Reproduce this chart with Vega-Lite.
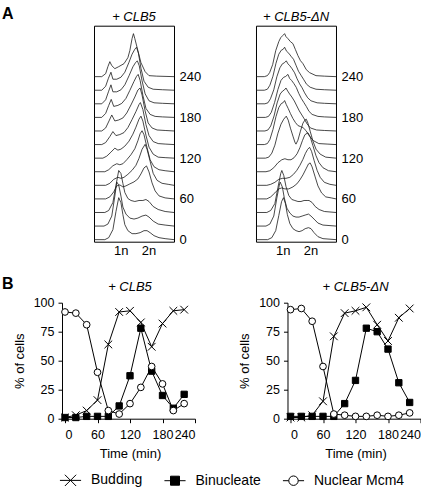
{
"$schema": "https://vega.github.io/schema/vega-lite/v6.json",
"padding": {"left": 2, "top": 5.7, "right": 0, "bottom": 0},
"background": "white",
"config": {
  "font": "Liberation Sans",
  "view": {"stroke": null},
  "axis": {"labelColor": "black", "titleColor": "black", "domainColor": "black", "tickColor": "black", "grid": false, "labelFont": "Liberation Sans", "titleFont": "Liberation Sans", "titleFontWeight": "normal"},
  "title": {"font": "Liberation Sans", "fontWeight": "normal", "color": "black"},
  "legend": {"labelFont": "Liberation Sans", "labelColor": "black"}
},
"datasets": {
"time": [
{"p":"L","s":"Budding","t":0,"v":1},{"p":"L","s":"Budding","t":20,"v":3},{"p":"L","s":"Budding","t":40,"v":7},{"p":"L","s":"Budding","t":60,"v":16},{"p":"L","s":"Budding","t":80,"v":64},{"p":"L","s":"Budding","t":100,"v":92},{"p":"L","s":"Budding","t":120,"v":93},{"p":"L","s":"Budding","t":140,"v":83},{"p":"L","s":"Budding","t":160,"v":62},{"p":"L","s":"Budding","t":180,"v":82},{"p":"L","s":"Budding","t":200,"v":93},{"p":"L","s":"Budding","t":220,"v":94},
{"p":"L","s":"Binucleate","t":0,"v":1},{"p":"L","s":"Binucleate","t":20,"v":1},{"p":"L","s":"Binucleate","t":40,"v":2},{"p":"L","s":"Binucleate","t":60,"v":2},{"p":"L","s":"Binucleate","t":80,"v":2},{"p":"L","s":"Binucleate","t":100,"v":11},{"p":"L","s":"Binucleate","t":120,"v":37},{"p":"L","s":"Binucleate","t":140,"v":78},{"p":"L","s":"Binucleate","t":160,"v":41},{"p":"L","s":"Binucleate","t":180,"v":20},{"p":"L","s":"Binucleate","t":200,"v":9},{"p":"L","s":"Binucleate","t":220,"v":21},
{"p":"L","s":"Nuclear Mcm4","t":0,"v":92},{"p":"L","s":"Nuclear Mcm4","t":20,"v":91},{"p":"L","s":"Nuclear Mcm4","t":40,"v":81},{"p":"L","s":"Nuclear Mcm4","t":60,"v":40},{"p":"L","s":"Nuclear Mcm4","t":80,"v":7},{"p":"L","s":"Nuclear Mcm4","t":100,"v":4},{"p":"L","s":"Nuclear Mcm4","t":120,"v":13},{"p":"L","s":"Nuclear Mcm4","t":140,"v":27},{"p":"L","s":"Nuclear Mcm4","t":160,"v":45},{"p":"L","s":"Nuclear Mcm4","t":180,"v":30},{"p":"L","s":"Nuclear Mcm4","t":200,"v":7},{"p":"L","s":"Nuclear Mcm4","t":220,"v":13},
{"p":"R","s":"Budding","t":0,"v":1},{"p":"R","s":"Budding","t":20,"v":1},{"p":"R","s":"Budding","t":40,"v":3},{"p":"R","s":"Budding","t":60,"v":15},{"p":"R","s":"Budding","t":80,"v":71},{"p":"R","s":"Budding","t":100,"v":91},{"p":"R","s":"Budding","t":120,"v":93},{"p":"R","s":"Budding","t":140,"v":96},{"p":"R","s":"Budding","t":160,"v":81},{"p":"R","s":"Budding","t":180,"v":67},{"p":"R","s":"Budding","t":200,"v":87},{"p":"R","s":"Budding","t":220,"v":95},
{"p":"R","s":"Binucleate","t":0,"v":2},{"p":"R","s":"Binucleate","t":20,"v":2},{"p":"R","s":"Binucleate","t":40,"v":2},{"p":"R","s":"Binucleate","t":60,"v":2},{"p":"R","s":"Binucleate","t":80,"v":2},{"p":"R","s":"Binucleate","t":100,"v":13},{"p":"R","s":"Binucleate","t":120,"v":33},{"p":"R","s":"Binucleate","t":140,"v":78},{"p":"R","s":"Binucleate","t":160,"v":75},{"p":"R","s":"Binucleate","t":180,"v":60},{"p":"R","s":"Binucleate","t":200,"v":31},{"p":"R","s":"Binucleate","t":220,"v":14},
{"p":"R","s":"Nuclear Mcm4","t":0,"v":94},{"p":"R","s":"Nuclear Mcm4","t":20,"v":95},{"p":"R","s":"Nuclear Mcm4","t":40,"v":84},{"p":"R","s":"Nuclear Mcm4","t":60,"v":45},{"p":"R","s":"Nuclear Mcm4","t":80,"v":4},{"p":"R","s":"Nuclear Mcm4","t":100,"v":3},{"p":"R","s":"Nuclear Mcm4","t":120,"v":2},{"p":"R","s":"Nuclear Mcm4","t":140,"v":2},{"p":"R","s":"Nuclear Mcm4","t":160,"v":3},{"p":"R","s":"Nuclear Mcm4","t":180,"v":2},{"p":"R","s":"Nuclear Mcm4","t":200,"v":3},{"p":"R","s":"Nuclear Mcm4","t":220,"v":5}
],
"ridge": [
{"p":"L","t":0,"u":0.04,"h":0},{"p":"L","t":0,"u":0.43,"h":0},{"p":"L","t":0,"u":0.57,"h":2},{"p":"L","t":0,"u":0.72,"h":10},{"p":"L","t":0,"u":0.83,"h":28},{"p":"L","t":0,"u":0.93,"h":42},{"p":"L","t":0,"u":1.01,"h":37},{"p":"L","t":0,"u":1.08,"h":25},{"p":"L","t":0,"u":1.15,"h":15},{"p":"L","t":0,"u":1.26,"h":9},{"p":"L","t":0,"u":1.41,"h":6},{"p":"L","t":0,"u":1.55,"h":6},{"p":"L","t":0,"u":1.70,"h":7},{"p":"L","t":0,"u":1.84,"h":9},{"p":"L","t":0,"u":1.95,"h":9},{"p":"L","t":0,"u":2.06,"h":7},{"p":"L","t":0,"u":2.20,"h":4},{"p":"L","t":0,"u":2.38,"h":2},{"p":"L","t":0,"u":2.60,"h":1},{"p":"L","t":0,"u":2.92,"h":0},
{"p":"L","t":20,"u":0.04,"h":0},{"p":"L","t":20,"u":0.40,"h":0},{"p":"L","t":20,"u":0.54,"h":2},{"p":"L","t":20,"u":0.68,"h":10},{"p":"L","t":20,"u":0.79,"h":30},{"p":"L","t":20,"u":0.86,"h":44},{"p":"L","t":20,"u":0.93,"h":41},{"p":"L","t":20,"u":1.01,"h":30},{"p":"L","t":20,"u":1.08,"h":19},{"p":"L","t":20,"u":1.19,"h":12},{"p":"L","t":20,"u":1.33,"h":8},{"p":"L","t":20,"u":1.48,"h":7},{"p":"L","t":20,"u":1.62,"h":8},{"p":"L","t":20,"u":1.77,"h":10},{"p":"L","t":20,"u":1.91,"h":11},{"p":"L","t":20,"u":2.02,"h":9},{"p":"L","t":20,"u":2.17,"h":5},{"p":"L","t":20,"u":2.35,"h":2},{"p":"L","t":20,"u":2.60,"h":1},{"p":"L","t":20,"u":2.92,"h":0},
{"p":"L","t":40,"u":0.04,"h":0},{"p":"L","t":40,"u":0.43,"h":0},{"p":"L","t":40,"u":0.57,"h":2},{"p":"L","t":40,"u":0.72,"h":10},{"p":"L","t":40,"u":0.83,"h":27},{"p":"L","t":40,"u":0.93,"h":42},{"p":"L","t":40,"u":1.01,"h":39},{"p":"L","t":40,"u":1.08,"h":29},{"p":"L","t":40,"u":1.15,"h":20},{"p":"L","t":40,"u":1.26,"h":14},{"p":"L","t":40,"u":1.37,"h":12},{"p":"L","t":40,"u":1.51,"h":11},{"p":"L","t":40,"u":1.66,"h":12},{"p":"L","t":40,"u":1.80,"h":12},{"p":"L","t":40,"u":1.91,"h":13},{"p":"L","t":40,"u":2.02,"h":11},{"p":"L","t":40,"u":2.17,"h":6},{"p":"L","t":40,"u":2.35,"h":3},{"p":"L","t":40,"u":2.60,"h":1},{"p":"L","t":40,"u":2.92,"h":0},
{"p":"L","t":60,"u":0.04,"h":0},{"p":"L","t":60,"u":0.46,"h":0},{"p":"L","t":60,"u":0.61,"h":2},{"p":"L","t":60,"u":0.75,"h":7},{"p":"L","t":60,"u":0.86,"h":13},{"p":"L","t":60,"u":0.97,"h":14},{"p":"L","t":60,"u":1.08,"h":12},{"p":"L","t":60,"u":1.19,"h":13},{"p":"L","t":60,"u":1.33,"h":15},{"p":"L","t":60,"u":1.48,"h":17},{"p":"L","t":60,"u":1.62,"h":20},{"p":"L","t":60,"u":1.73,"h":25},{"p":"L","t":60,"u":1.84,"h":31},{"p":"L","t":60,"u":1.93,"h":33},{"p":"L","t":60,"u":2.02,"h":27},{"p":"L","t":60,"u":2.13,"h":16},{"p":"L","t":60,"u":2.24,"h":8},{"p":"L","t":60,"u":2.38,"h":3},{"p":"L","t":60,"u":2.60,"h":1},{"p":"L","t":60,"u":2.92,"h":0},
{"p":"L","t":80,"u":0.04,"h":0},{"p":"L","t":80,"u":0.46,"h":0},{"p":"L","t":80,"u":0.61,"h":2},{"p":"L","t":80,"u":0.75,"h":6},{"p":"L","t":80,"u":0.90,"h":8},{"p":"L","t":80,"u":1.01,"h":7},{"p":"L","t":80,"u":1.12,"h":8},{"p":"L","t":80,"u":1.26,"h":11},{"p":"L","t":80,"u":1.41,"h":15},{"p":"L","t":80,"u":1.55,"h":20},{"p":"L","t":80,"u":1.66,"h":27},{"p":"L","t":80,"u":1.77,"h":36},{"p":"L","t":80,"u":1.88,"h":41},{"p":"L","t":80,"u":1.95,"h":36},{"p":"L","t":80,"u":2.06,"h":24},{"p":"L","t":80,"u":2.17,"h":12},{"p":"L","t":80,"u":2.31,"h":5},{"p":"L","t":80,"u":2.49,"h":2},{"p":"L","t":80,"u":2.71,"h":1},{"p":"L","t":80,"u":2.92,"h":0},
{"p":"L","t":100,"u":0.04,"h":0},{"p":"L","t":100,"u":0.43,"h":0},{"p":"L","t":100,"u":0.57,"h":2},{"p":"L","t":100,"u":0.72,"h":6},{"p":"L","t":100,"u":0.86,"h":8},{"p":"L","t":100,"u":0.97,"h":7},{"p":"L","t":100,"u":1.08,"h":8},{"p":"L","t":100,"u":1.22,"h":12},{"p":"L","t":100,"u":1.37,"h":17},{"p":"L","t":100,"u":1.51,"h":23},{"p":"L","t":100,"u":1.62,"h":31},{"p":"L","t":100,"u":1.70,"h":38},{"p":"L","t":100,"u":1.77,"h":41},{"p":"L","t":100,"u":1.84,"h":37},{"p":"L","t":100,"u":1.95,"h":24},{"p":"L","t":100,"u":2.06,"h":12},{"p":"L","t":100,"u":2.20,"h":5},{"p":"L","t":100,"u":2.38,"h":2},{"p":"L","t":100,"u":2.60,"h":1},{"p":"L","t":100,"u":2.92,"h":0},
{"p":"L","t":120,"u":0.04,"h":0},{"p":"L","t":120,"u":0.36,"h":0},{"p":"L","t":120,"u":0.50,"h":2},{"p":"L","t":120,"u":0.65,"h":6},{"p":"L","t":120,"u":0.79,"h":10},{"p":"L","t":120,"u":0.90,"h":8},{"p":"L","t":120,"u":1.01,"h":9},{"p":"L","t":120,"u":1.15,"h":12},{"p":"L","t":120,"u":1.30,"h":17},{"p":"L","t":120,"u":1.44,"h":24},{"p":"L","t":120,"u":1.55,"h":31},{"p":"L","t":120,"u":1.66,"h":39},{"p":"L","t":120,"u":1.73,"h":42},{"p":"L","t":120,"u":1.80,"h":37},{"p":"L","t":120,"u":1.91,"h":23},{"p":"L","t":120,"u":2.02,"h":11},{"p":"L","t":120,"u":2.17,"h":4},{"p":"L","t":120,"u":2.35,"h":1},{"p":"L","t":120,"u":2.60,"h":0.5},{"p":"L","t":120,"u":2.92,"h":0},
{"p":"L","t":140,"u":0.04,"h":0},{"p":"L","t":140,"u":0.32,"h":0},{"p":"L","t":140,"u":0.46,"h":2},{"p":"L","t":140,"u":0.61,"h":8},{"p":"L","t":140,"u":0.72,"h":13},{"p":"L","t":140,"u":0.83,"h":9},{"p":"L","t":140,"u":0.97,"h":10},{"p":"L","t":140,"u":1.12,"h":12},{"p":"L","t":140,"u":1.26,"h":17},{"p":"L","t":140,"u":1.41,"h":25},{"p":"L","t":140,"u":1.55,"h":33},{"p":"L","t":140,"u":1.66,"h":40},{"p":"L","t":140,"u":1.71,"h":42},{"p":"L","t":140,"u":1.80,"h":35},{"p":"L","t":140,"u":1.91,"h":20},{"p":"L","t":140,"u":2.02,"h":9},{"p":"L","t":140,"u":2.17,"h":3},{"p":"L","t":140,"u":2.35,"h":1},{"p":"L","t":140,"u":2.60,"h":0.5},{"p":"L","t":140,"u":2.92,"h":0},
{"p":"L","t":160,"u":0.04,"h":0},{"p":"L","t":160,"u":0.32,"h":0},{"p":"L","t":160,"u":0.46,"h":3},{"p":"L","t":160,"u":0.58,"h":10},{"p":"L","t":160,"u":0.68,"h":16},{"p":"L","t":160,"u":0.79,"h":10},{"p":"L","t":160,"u":0.93,"h":11},{"p":"L","t":160,"u":1.08,"h":13},{"p":"L","t":160,"u":1.22,"h":18},{"p":"L","t":160,"u":1.37,"h":26},{"p":"L","t":160,"u":1.51,"h":34},{"p":"L","t":160,"u":1.62,"h":41},{"p":"L","t":160,"u":1.70,"h":43},{"p":"L","t":160,"u":1.77,"h":36},{"p":"L","t":160,"u":1.88,"h":20},{"p":"L","t":160,"u":1.99,"h":8},{"p":"L","t":160,"u":2.13,"h":3},{"p":"L","t":160,"u":2.31,"h":1},{"p":"L","t":160,"u":2.60,"h":0.5},{"p":"L","t":160,"u":2.92,"h":0},
{"p":"L","t":180,"u":0.04,"h":0},{"p":"L","t":180,"u":0.32,"h":0},{"p":"L","t":180,"u":0.46,"h":4},{"p":"L","t":180,"u":0.57,"h":12},{"p":"L","t":180,"u":0.66,"h":18},{"p":"L","t":180,"u":0.75,"h":11},{"p":"L","t":180,"u":0.90,"h":12},{"p":"L","t":180,"u":1.04,"h":14},{"p":"L","t":180,"u":1.19,"h":19},{"p":"L","t":180,"u":1.33,"h":27},{"p":"L","t":180,"u":1.48,"h":36},{"p":"L","t":180,"u":1.57,"h":41},{"p":"L","t":180,"u":1.63,"h":43},{"p":"L","t":180,"u":1.70,"h":37},{"p":"L","t":180,"u":1.80,"h":22},{"p":"L","t":180,"u":1.91,"h":9},{"p":"L","t":180,"u":2.06,"h":3},{"p":"L","t":180,"u":2.24,"h":1},{"p":"L","t":180,"u":2.50,"h":0.5},{"p":"L","t":180,"u":2.92,"h":0},
{"p":"L","t":200,"u":0.04,"h":0},{"p":"L","t":200,"u":0.32,"h":0},{"p":"L","t":200,"u":0.46,"h":4},{"p":"L","t":200,"u":0.56,"h":12},{"p":"L","t":200,"u":0.65,"h":19},{"p":"L","t":200,"u":0.72,"h":12},{"p":"L","t":200,"u":0.86,"h":12},{"p":"L","t":200,"u":1.01,"h":14},{"p":"L","t":200,"u":1.15,"h":19},{"p":"L","t":200,"u":1.30,"h":28},{"p":"L","t":200,"u":1.44,"h":37},{"p":"L","t":200,"u":1.53,"h":41},{"p":"L","t":200,"u":1.60,"h":43},{"p":"L","t":200,"u":1.67,"h":38},{"p":"L","t":200,"u":1.77,"h":23},{"p":"L","t":200,"u":1.88,"h":10},{"p":"L","t":200,"u":2.02,"h":3},{"p":"L","t":200,"u":2.20,"h":1},{"p":"L","t":200,"u":2.50,"h":0.5},{"p":"L","t":200,"u":2.92,"h":0},
{"p":"L","t":220,"u":0.04,"h":0},{"p":"L","t":220,"u":0.32,"h":0},{"p":"L","t":220,"u":0.46,"h":4},{"p":"L","t":220,"u":0.56,"h":12},{"p":"L","t":220,"u":0.65,"h":18},{"p":"L","t":220,"u":0.72,"h":11},{"p":"L","t":220,"u":0.86,"h":11},{"p":"L","t":220,"u":1.01,"h":13},{"p":"L","t":220,"u":1.15,"h":18},{"p":"L","t":220,"u":1.30,"h":28},{"p":"L","t":220,"u":1.41,"h":36},{"p":"L","t":220,"u":1.51,"h":41},{"p":"L","t":220,"u":1.57,"h":43},{"p":"L","t":220,"u":1.64,"h":37},{"p":"L","t":220,"u":1.73,"h":22},{"p":"L","t":220,"u":1.84,"h":9},{"p":"L","t":220,"u":1.99,"h":3},{"p":"L","t":220,"u":2.17,"h":1},{"p":"L","t":220,"u":2.50,"h":0.5},{"p":"L","t":220,"u":2.92,"h":0},
{"p":"L","t":240,"u":0.04,"h":0},{"p":"L","t":240,"u":0.32,"h":0},{"p":"L","t":240,"u":0.46,"h":3},{"p":"L","t":240,"u":0.54,"h":10},{"p":"L","t":240,"u":0.61,"h":15},{"p":"L","t":240,"u":0.68,"h":11},{"p":"L","t":240,"u":0.79,"h":8},{"p":"L","t":240,"u":0.93,"h":10},{"p":"L","t":240,"u":1.12,"h":13},{"p":"L","t":240,"u":1.26,"h":19},{"p":"L","t":240,"u":1.33,"h":26},{"p":"L","t":240,"u":1.41,"h":38},{"p":"L","t":240,"u":1.46,"h":43},{"p":"L","t":240,"u":1.51,"h":38},{"p":"L","t":240,"u":1.62,"h":26},{"p":"L","t":240,"u":1.73,"h":14},{"p":"L","t":240,"u":1.88,"h":5},{"p":"L","t":240,"u":2.02,"h":1},{"p":"L","t":240,"u":2.30,"h":0.5},{"p":"L","t":240,"u":2.92,"h":0},
{"p":"R","t":0,"u":0.04,"h":0},{"p":"R","t":0,"u":0.46,"h":0},{"p":"R","t":0,"u":0.61,"h":2},{"p":"R","t":0,"u":0.75,"h":9},{"p":"R","t":0,"u":0.86,"h":24},{"p":"R","t":0,"u":0.96,"h":38},{"p":"R","t":0,"u":1.03,"h":42},{"p":"R","t":0,"u":1.10,"h":36},{"p":"R","t":0,"u":1.17,"h":25},{"p":"R","t":0,"u":1.26,"h":16},{"p":"R","t":0,"u":1.37,"h":11},{"p":"R","t":0,"u":1.48,"h":9},{"p":"R","t":0,"u":1.59,"h":8},{"p":"R","t":0,"u":1.70,"h":9},{"p":"R","t":0,"u":1.81,"h":11},{"p":"R","t":0,"u":1.93,"h":12},{"p":"R","t":0,"u":2.02,"h":11},{"p":"R","t":0,"u":2.13,"h":7},{"p":"R","t":0,"u":2.27,"h":3},{"p":"R","t":0,"u":2.45,"h":1},{"p":"R","t":0,"u":2.92,"h":0},
{"p":"R","t":20,"u":0.04,"h":0},{"p":"R","t":20,"u":0.40,"h":0},{"p":"R","t":20,"u":0.54,"h":2},{"p":"R","t":20,"u":0.68,"h":10},{"p":"R","t":20,"u":0.79,"h":28},{"p":"R","t":20,"u":0.88,"h":41},{"p":"R","t":20,"u":0.91,"h":44},{"p":"R","t":20,"u":0.99,"h":39},{"p":"R","t":20,"u":1.06,"h":28},{"p":"R","t":20,"u":1.15,"h":18},{"p":"R","t":20,"u":1.26,"h":13},{"p":"R","t":20,"u":1.37,"h":10},{"p":"R","t":20,"u":1.48,"h":9},{"p":"R","t":20,"u":1.59,"h":9},{"p":"R","t":20,"u":1.70,"h":10},{"p":"R","t":20,"u":1.81,"h":11},{"p":"R","t":20,"u":1.93,"h":12},{"p":"R","t":20,"u":2.02,"h":10},{"p":"R","t":20,"u":2.13,"h":7},{"p":"R","t":20,"u":2.27,"h":3},{"p":"R","t":20,"u":2.45,"h":1},{"p":"R","t":20,"u":2.92,"h":0},
{"p":"R","t":40,"u":0.04,"h":0},{"p":"R","t":40,"u":0.43,"h":0},{"p":"R","t":40,"u":0.57,"h":2},{"p":"R","t":40,"u":0.72,"h":9},{"p":"R","t":40,"u":0.83,"h":25},{"p":"R","t":40,"u":0.93,"h":39},{"p":"R","t":40,"u":0.97,"h":42},{"p":"R","t":40,"u":1.04,"h":37},{"p":"R","t":40,"u":1.12,"h":26},{"p":"R","t":40,"u":1.22,"h":17},{"p":"R","t":40,"u":1.33,"h":13},{"p":"R","t":40,"u":1.44,"h":12},{"p":"R","t":40,"u":1.55,"h":11},{"p":"R","t":40,"u":1.66,"h":11},{"p":"R","t":40,"u":1.77,"h":12},{"p":"R","t":40,"u":1.88,"h":12},{"p":"R","t":40,"u":1.95,"h":12},{"p":"R","t":40,"u":2.06,"h":10},{"p":"R","t":40,"u":2.17,"h":6},{"p":"R","t":40,"u":2.31,"h":3},{"p":"R","t":40,"u":2.50,"h":1},{"p":"R","t":40,"u":2.92,"h":0},
{"p":"R","t":60,"u":0.04,"h":0},{"p":"R","t":60,"u":0.43,"h":0},{"p":"R","t":60,"u":0.57,"h":2},{"p":"R","t":60,"u":0.72,"h":6},{"p":"R","t":60,"u":0.86,"h":10},{"p":"R","t":60,"u":0.97,"h":11},{"p":"R","t":60,"u":1.08,"h":10},{"p":"R","t":60,"u":1.22,"h":10},{"p":"R","t":60,"u":1.37,"h":12},{"p":"R","t":60,"u":1.51,"h":15},{"p":"R","t":60,"u":1.62,"h":19},{"p":"R","t":60,"u":1.73,"h":24},{"p":"R","t":60,"u":1.84,"h":30},{"p":"R","t":60,"u":1.93,"h":35},{"p":"R","t":60,"u":1.99,"h":36},{"p":"R","t":60,"u":2.06,"h":32},{"p":"R","t":60,"u":2.17,"h":22},{"p":"R","t":60,"u":2.27,"h":13},{"p":"R","t":60,"u":2.40,"h":6},{"p":"R","t":60,"u":2.55,"h":2},{"p":"R","t":60,"u":2.75,"h":1},{"p":"R","t":60,"u":2.92,"h":0},
{"p":"R","t":80,"u":0.04,"h":0},{"p":"R","t":80,"u":0.43,"h":0},{"p":"R","t":80,"u":0.57,"h":1},{"p":"R","t":80,"u":0.72,"h":3},{"p":"R","t":80,"u":0.86,"h":6},{"p":"R","t":80,"u":1.00,"h":7},{"p":"R","t":80,"u":1.12,"h":7},{"p":"R","t":80,"u":1.26,"h":8},{"p":"R","t":80,"u":1.39,"h":11},{"p":"R","t":80,"u":1.51,"h":15},{"p":"R","t":80,"u":1.62,"h":20},{"p":"R","t":80,"u":1.73,"h":26},{"p":"R","t":80,"u":1.82,"h":32},{"p":"R","t":80,"u":1.90,"h":36},{"p":"R","t":80,"u":1.97,"h":38},{"p":"R","t":80,"u":2.04,"h":34},{"p":"R","t":80,"u":2.13,"h":25},{"p":"R","t":80,"u":2.24,"h":15},{"p":"R","t":80,"u":2.35,"h":8},{"p":"R","t":80,"u":2.50,"h":3},{"p":"R","t":80,"u":2.70,"h":1},{"p":"R","t":80,"u":2.92,"h":0},
{"p":"R","t":100,"u":0.04,"h":0},{"p":"R","t":100,"u":0.40,"h":0},{"p":"R","t":100,"u":0.54,"h":1},{"p":"R","t":100,"u":0.68,"h":4},{"p":"R","t":100,"u":0.83,"h":9},{"p":"R","t":100,"u":0.97,"h":12},{"p":"R","t":100,"u":1.08,"h":13},{"p":"R","t":100,"u":1.19,"h":12},{"p":"R","t":100,"u":1.30,"h":12},{"p":"R","t":100,"u":1.41,"h":14},{"p":"R","t":100,"u":1.52,"h":18},{"p":"R","t":100,"u":1.62,"h":24},{"p":"R","t":100,"u":1.71,"h":31},{"p":"R","t":100,"u":1.80,"h":37},{"p":"R","t":100,"u":1.91,"h":39},{"p":"R","t":100,"u":1.99,"h":35},{"p":"R","t":100,"u":2.09,"h":26},{"p":"R","t":100,"u":2.20,"h":16},{"p":"R","t":100,"u":2.31,"h":9},{"p":"R","t":100,"u":2.45,"h":4},{"p":"R","t":100,"u":2.65,"h":1},{"p":"R","t":100,"u":2.92,"h":0},
{"p":"R","t":120,"u":0.04,"h":0},{"p":"R","t":120,"u":0.38,"h":0},{"p":"R","t":120,"u":0.50,"h":1},{"p":"R","t":120,"u":0.61,"h":5},{"p":"R","t":120,"u":0.72,"h":13},{"p":"R","t":120,"u":0.83,"h":25},{"p":"R","t":120,"u":0.94,"h":34},{"p":"R","t":120,"u":1.04,"h":39},{"p":"R","t":120,"u":1.13,"h":42},{"p":"R","t":120,"u":1.20,"h":38},{"p":"R","t":120,"u":1.28,"h":30},{"p":"R","t":120,"u":1.37,"h":22},{"p":"R","t":120,"u":1.44,"h":16},{"p":"R","t":120,"u":1.48,"h":14},{"p":"R","t":120,"u":1.55,"h":18},{"p":"R","t":120,"u":1.64,"h":27},{"p":"R","t":120,"u":1.73,"h":35},{"p":"R","t":120,"u":1.80,"h":38},{"p":"R","t":120,"u":1.85,"h":39},{"p":"R","t":120,"u":1.91,"h":35},{"p":"R","t":120,"u":1.99,"h":27},{"p":"R","t":120,"u":2.09,"h":17},{"p":"R","t":120,"u":2.20,"h":9},{"p":"R","t":120,"u":2.35,"h":4},{"p":"R","t":120,"u":2.55,"h":1},{"p":"R","t":120,"u":2.92,"h":0},
{"p":"R","t":140,"u":0.04,"h":0},{"p":"R","t":140,"u":0.34,"h":0},{"p":"R","t":140,"u":0.45,"h":1},{"p":"R","t":140,"u":0.54,"h":5},{"p":"R","t":140,"u":0.65,"h":15},{"p":"R","t":140,"u":0.76,"h":28},{"p":"R","t":140,"u":0.86,"h":37},{"p":"R","t":140,"u":0.95,"h":41},{"p":"R","t":140,"u":1.02,"h":42},{"p":"R","t":140,"u":1.07,"h":44},{"p":"R","t":140,"u":1.13,"h":40},{"p":"R","t":140,"u":1.20,"h":36},{"p":"R","t":140,"u":1.28,"h":31},{"p":"R","t":140,"u":1.37,"h":26},{"p":"R","t":140,"u":1.46,"h":22},{"p":"R","t":140,"u":1.55,"h":19},{"p":"R","t":140,"u":1.64,"h":18},{"p":"R","t":140,"u":1.73,"h":17},{"p":"R","t":140,"u":1.84,"h":14},{"p":"R","t":140,"u":1.95,"h":9},{"p":"R","t":140,"u":2.10,"h":4},{"p":"R","t":140,"u":2.30,"h":1},{"p":"R","t":140,"u":2.60,"h":0.5},{"p":"R","t":140,"u":2.92,"h":0},
{"p":"R","t":160,"u":0.04,"h":0},{"p":"R","t":160,"u":0.36,"h":0},{"p":"R","t":160,"u":0.47,"h":1},{"p":"R","t":160,"u":0.57,"h":5},{"p":"R","t":160,"u":0.69,"h":15},{"p":"R","t":160,"u":0.80,"h":28},{"p":"R","t":160,"u":0.91,"h":37},{"p":"R","t":160,"u":1.00,"h":40},{"p":"R","t":160,"u":1.06,"h":41},{"p":"R","t":160,"u":1.12,"h":43},{"p":"R","t":160,"u":1.18,"h":40},{"p":"R","t":160,"u":1.25,"h":37},{"p":"R","t":160,"u":1.33,"h":34},{"p":"R","t":160,"u":1.42,"h":30},{"p":"R","t":160,"u":1.51,"h":25},{"p":"R","t":160,"u":1.60,"h":20},{"p":"R","t":160,"u":1.69,"h":16},{"p":"R","t":160,"u":1.78,"h":12},{"p":"R","t":160,"u":1.88,"h":7},{"p":"R","t":160,"u":2.00,"h":3},{"p":"R","t":160,"u":2.22,"h":1},{"p":"R","t":160,"u":2.50,"h":0.5},{"p":"R","t":160,"u":2.92,"h":0},
{"p":"R","t":180,"u":0.04,"h":0},{"p":"R","t":180,"u":0.38,"h":0},{"p":"R","t":180,"u":0.49,"h":1},{"p":"R","t":180,"u":0.59,"h":5},{"p":"R","t":180,"u":0.71,"h":15},{"p":"R","t":180,"u":0.83,"h":28},{"p":"R","t":180,"u":0.94,"h":37},{"p":"R","t":180,"u":1.03,"h":40},{"p":"R","t":180,"u":1.11,"h":41},{"p":"R","t":180,"u":1.19,"h":43},{"p":"R","t":180,"u":1.25,"h":39},{"p":"R","t":180,"u":1.32,"h":37},{"p":"R","t":180,"u":1.40,"h":34},{"p":"R","t":180,"u":1.49,"h":30},{"p":"R","t":180,"u":1.58,"h":24},{"p":"R","t":180,"u":1.67,"h":19},{"p":"R","t":180,"u":1.76,"h":15},{"p":"R","t":180,"u":1.85,"h":11},{"p":"R","t":180,"u":1.95,"h":6},{"p":"R","t":180,"u":2.06,"h":3},{"p":"R","t":180,"u":2.27,"h":1},{"p":"R","t":180,"u":2.50,"h":0.5},{"p":"R","t":180,"u":2.92,"h":0},
{"p":"R","t":200,"u":0.04,"h":0},{"p":"R","t":200,"u":0.36,"h":0},{"p":"R","t":200,"u":0.47,"h":1},{"p":"R","t":200,"u":0.56,"h":5},{"p":"R","t":200,"u":0.68,"h":14},{"p":"R","t":200,"u":0.79,"h":27},{"p":"R","t":200,"u":0.90,"h":36},{"p":"R","t":200,"u":0.99,"h":40},{"p":"R","t":200,"u":1.06,"h":41},{"p":"R","t":200,"u":1.13,"h":43},{"p":"R","t":200,"u":1.19,"h":40},{"p":"R","t":200,"u":1.26,"h":38},{"p":"R","t":200,"u":1.34,"h":35},{"p":"R","t":200,"u":1.43,"h":31},{"p":"R","t":200,"u":1.52,"h":25},{"p":"R","t":200,"u":1.61,"h":20},{"p":"R","t":200,"u":1.70,"h":16},{"p":"R","t":200,"u":1.79,"h":11},{"p":"R","t":200,"u":1.90,"h":6},{"p":"R","t":200,"u":2.02,"h":3},{"p":"R","t":200,"u":2.24,"h":1},{"p":"R","t":200,"u":2.50,"h":0.5},{"p":"R","t":200,"u":2.92,"h":0},
{"p":"R","t":220,"u":0.04,"h":0},{"p":"R","t":220,"u":0.34,"h":0},{"p":"R","t":220,"u":0.45,"h":1},{"p":"R","t":220,"u":0.54,"h":5},{"p":"R","t":220,"u":0.65,"h":14},{"p":"R","t":220,"u":0.76,"h":27},{"p":"R","t":220,"u":0.86,"h":36},{"p":"R","t":220,"u":0.95,"h":40},{"p":"R","t":220,"u":1.02,"h":41},{"p":"R","t":220,"u":1.07,"h":43},{"p":"R","t":220,"u":1.14,"h":39},{"p":"R","t":220,"u":1.22,"h":37},{"p":"R","t":220,"u":1.30,"h":34},{"p":"R","t":220,"u":1.39,"h":31},{"p":"R","t":220,"u":1.48,"h":25},{"p":"R","t":220,"u":1.57,"h":19},{"p":"R","t":220,"u":1.66,"h":15},{"p":"R","t":220,"u":1.75,"h":11},{"p":"R","t":220,"u":1.86,"h":6},{"p":"R","t":220,"u":1.99,"h":3},{"p":"R","t":220,"u":2.20,"h":1},{"p":"R","t":220,"u":2.50,"h":0.5},{"p":"R","t":220,"u":2.92,"h":0},
{"p":"R","t":240,"u":0.04,"h":0},{"p":"R","t":240,"u":0.34,"h":0},{"p":"R","t":240,"u":0.45,"h":1},{"p":"R","t":240,"u":0.53,"h":4},{"p":"R","t":240,"u":0.64,"h":12},{"p":"R","t":240,"u":0.75,"h":26},{"p":"R","t":240,"u":0.86,"h":35},{"p":"R","t":240,"u":0.93,"h":39},{"p":"R","t":240,"u":1.00,"h":41},{"p":"R","t":240,"u":1.07,"h":43},{"p":"R","t":240,"u":1.12,"h":40},{"p":"R","t":240,"u":1.19,"h":38},{"p":"R","t":240,"u":1.28,"h":35},{"p":"R","t":240,"u":1.37,"h":33},{"p":"R","t":240,"u":1.46,"h":27},{"p":"R","t":240,"u":1.55,"h":21},{"p":"R","t":240,"u":1.64,"h":16},{"p":"R","t":240,"u":1.73,"h":13},{"p":"R","t":240,"u":1.85,"h":7},{"p":"R","t":240,"u":1.97,"h":4},{"p":"R","t":240,"u":2.20,"h":1},{"p":"R","t":240,"u":2.50,"h":0.5},{"p":"R","t":240,"u":2.92,"h":0}
]
},
"vconcat": [
  {
    "hconcat": [
      {
        "width": 26, "height": 216,
        "title": {"text": "A", "anchor": "start", "frame": "group", "dx": -63, "offset": 3.3, "fontSize": 16, "fontWeight": "bold"},
        "data": {"values": [{}]},
        "mark": {"type": "text"},
        "encoding": {"text": {"value": ""}}
      },
      {
        "hconcat": [
          {
            "width": 80, "height": 216,
            "view": {"stroke": "black", "strokeWidth": 1},
            "title": {"text": "+ CLB5", "fontStyle": "italic", "fontSize": 13, "offset": 2},
            "data": {"name": "ridge"},
            "transform": [{"filter": "datum.p === 'L'"}, {"calculate": "datum.t + datum.h * 1.472", "as": "y"}],
            "mark": {"type": "line", "color": "#1a1a1a", "strokeWidth": 0.8},
            "encoding": {
              "x": {"field": "u", "type": "quantitative", "scale": {"domain": [0.04, 2.92], "nice": false, "zero": false}, "axis": {"values": [1, 2], "labelExpr": "datum.value === 1 ? '1n' : '2n'", "domain": false, "ticks": false, "tickSize": 0, "labelPadding": 3, "labelFontSize": 13, "title": null}},
              "y": {"field": "y", "type": "quantitative", "scale": {"domain": [-3, 315], "nice": false, "zero": false}, "axis": {"orient": "right", "values": [0, 60, 120, 180, 240], "domain": false, "ticks": false, "tickSize": 0, "labelPadding": 5, "labelFontSize": 13, "title": null}},
              "detail": {"field": "t", "type": "nominal"}
            }
          },
          {
            "width": 80, "height": 216,
            "view": {"stroke": "black", "strokeWidth": 1},
            "title": {"text": "+ CLB5-ΔN", "fontStyle": "italic", "fontSize": 13, "offset": 2},
            "data": {"name": "ridge"},
            "transform": [{"filter": "datum.p === 'R'"}, {"calculate": "datum.t + datum.h * 1.472", "as": "y"}],
            "mark": {"type": "line", "color": "#1a1a1a", "strokeWidth": 0.8},
            "encoding": {
              "x": {"field": "u", "type": "quantitative", "scale": {"domain": [0.04, 2.92], "nice": false, "zero": false}, "axis": {"values": [1, 2], "labelExpr": "datum.value === 1 ? '1n' : '2n'", "domain": false, "ticks": false, "tickSize": 0, "labelPadding": 3, "labelFontSize": 13, "title": null}},
              "y": {"field": "y", "type": "quantitative", "scale": {"domain": [-3, 315], "nice": false, "zero": false}, "axis": {"orient": "right", "values": [0, 60, 120, 180, 240], "domain": false, "ticks": false, "tickSize": 0, "labelPadding": 5, "labelFontSize": 13, "title": null}},
              "detail": {"field": "t", "type": "nominal"}
            }
          }
        ],
        "spacing": 82, "bounds": "flush"
      }
    ],
    "spacing": 0, "bounds": "full"
  },
  {
    "title": {"text": "B", "anchor": "start", "frame": "group", "dx": -63, "offset": -11, "fontSize": 16, "fontWeight": "bold"},
    "hconcat": [
      {
        "width": 130, "height": 116,
        "title": {"text": "+ CLB5", "fontStyle": "italic", "fontSize": 13, "offset": 3},
        "data": {"name": "time"},
        "transform": [{"filter": "datum.p === 'L'"}],
        "encoding": {
          "x": {"field": "t", "type": "quantitative", "scale": {"domain": [0, 240], "nice": false}, "axis": {"values": [0, 60, 120, 180, 240], "title": "Time (min)", "tickSize": 4, "labelPadding": 6, "titlePadding": 6, "labelFontSize": 12.5, "titleFontSize": 13}},
          "y": {"field": "v", "type": "quantitative", "scale": {"domain": [0, 100], "nice": false}, "axis": {"values": [0, 25, 50, 75, 100], "title": "% of cells", "offset": 3, "tickSize": 4, "labelPadding": 4, "titlePadding": 7, "labelFontSize": 12.5, "titleFontSize": 13}}
        },
        "layer": [
          {"mark": {"type": "line", "color": "black", "strokeWidth": 1}, "encoding": {"detail": {"field": "s", "type": "nominal"}}},
          {"transform": [{"filter": "datum.s === 'Budding'"}], "mark": {"type": "point", "shape": "M-1.15,-1.15L1.15,1.15M-1.15,1.15L1.15,-1.15", "filled": false, "stroke": "black", "strokeWidth": 1, "opacity": 1, "size": 45}},
          {"transform": [{"filter": "datum.s === 'Binucleate'"}], "mark": {"type": "point", "shape": "square", "filled": true, "fill": "black", "stroke": "black", "strokeWidth": 1, "opacity": 1, "size": 40}},
          {"transform": [{"filter": "datum.s === 'Nuclear Mcm4'"}], "mark": {"type": "point", "shape": "circle", "filled": true, "fill": "white", "stroke": "black", "strokeWidth": 1, "opacity": 1, "size": 45}},
          {"transform": [{"filter": "false"}], "mark": {"type": "point", "filled": true, "stroke": "black", "strokeWidth": 1, "opacity": 1, "size": 81},
           "encoding": {
             "shape": {"field": "s", "type": "nominal", "scale": {"domain": ["Budding", "Binucleate", "Nuclear Mcm4"], "range": ["M-1.25,-1.25L1.25,1.25M-1.25,1.25L1.25,-1.25M-2.35,0H2.35", "M-1,-1H1V1H-1ZM-2.35,0H-1M1,0H2.35", "M1.05,0A1.05,1.05,0,1,1,-1.05,0A1.05,1.05,0,1,1,1.05,0ZM-2.35,0H-1.05M1.05,0H2.35"]},
               "legend": {"title": null, "orient": "none", "legendX": -1.5, "legendY": 447.5, "direction": "horizontal", "labelFontSize": 14, "labelOffset": 13.5, "columnPadding": 19.5, "symbolSize": 81, "symbolStrokeWidth": 1, "symbolOpacity": 1, "padding": 0}},
             "fill": {"field": "s", "type": "nominal", "scale": {"domain": ["Budding", "Binucleate", "Nuclear Mcm4"], "range": ["black", "black", "white"]},
               "legend": {"title": null, "orient": "none", "legendX": -1.5, "legendY": 447.5, "direction": "horizontal", "labelFontSize": 14, "labelOffset": 13.5, "columnPadding": 19.5, "symbolSize": 81, "symbolStrokeWidth": 1, "symbolOpacity": 1, "padding": 0}}
           }}
        ]
      },
      {
        "width": 130, "height": 116,
        "title": {"text": "+ CLB5-ΔN", "fontStyle": "italic", "fontSize": 13, "offset": 3},
        "data": {"name": "time"},
        "transform": [{"filter": "datum.p === 'R'"}],
        "encoding": {
          "x": {"field": "t", "type": "quantitative", "scale": {"domain": [0, 240], "nice": false}, "axis": {"values": [0, 60, 120, 180, 240], "title": "Time (min)", "tickSize": 4, "labelPadding": 6, "titlePadding": 6, "labelFontSize": 12.5, "titleFontSize": 13}},
          "y": {"field": "v", "type": "quantitative", "scale": {"domain": [0, 100], "nice": false}, "axis": {"values": [0, 25, 50, 75, 100], "title": "% of cells", "offset": 3, "tickSize": 4, "labelPadding": 4, "titlePadding": 7, "labelFontSize": 12.5, "titleFontSize": 13}}
        },
        "layer": [
          {"mark": {"type": "line", "color": "black", "strokeWidth": 1}, "encoding": {"detail": {"field": "s", "type": "nominal"}}},
          {"transform": [{"filter": "datum.s === 'Budding'"}], "mark": {"type": "point", "shape": "M-1.15,-1.15L1.15,1.15M-1.15,1.15L1.15,-1.15", "filled": false, "stroke": "black", "strokeWidth": 1, "opacity": 1, "size": 45}},
          {"transform": [{"filter": "datum.s === 'Binucleate'"}], "mark": {"type": "point", "shape": "square", "filled": true, "fill": "black", "stroke": "black", "strokeWidth": 1, "opacity": 1, "size": 40}},
          {"transform": [{"filter": "datum.s === 'Nuclear Mcm4'"}], "mark": {"type": "point", "shape": "circle", "filled": true, "fill": "white", "stroke": "black", "strokeWidth": 1, "opacity": 1, "size": 45}}
        ]
      }
    ],
    "spacing": 95.5, "bounds": "flush"
  }
],
"spacing": 17,
"bounds": "full"
}
